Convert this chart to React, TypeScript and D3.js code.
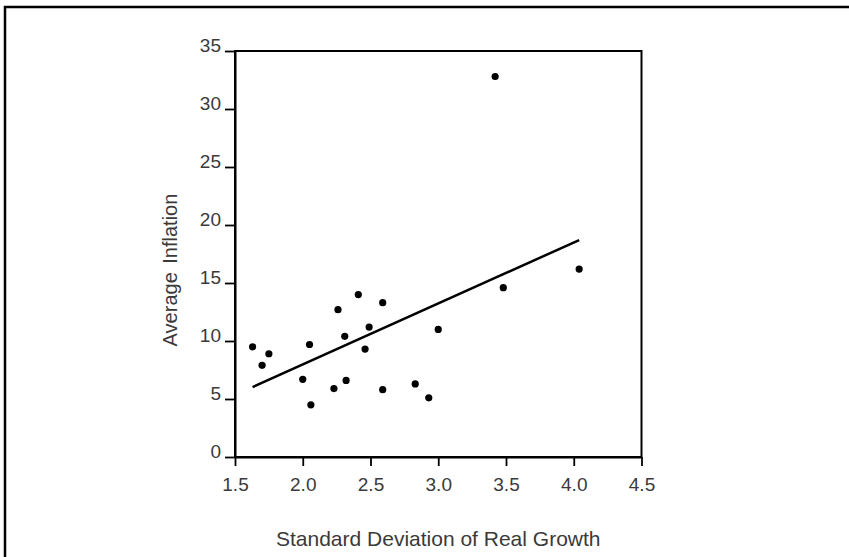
import React, { useEffect, useRef } from 'react';
import * as d3 from 'd3';

// scatter points
const growthSd = [1.63, 1.70, 1.75, 2.00, 2.05, 2.06, 2.23, 2.26, 2.31, 2.32, 2.41, 2.46, 2.49, 2.59, 2.59, 2.83, 2.93, 3.00, 3.42, 3.48, 4.04];
const inflation = [9.5, 7.9, 8.9, 6.7, 9.7, 4.5, 5.9, 12.7, 10.4, 6.6, 14.0, 9.3, 11.2, 13.3, 5.8, 6.3, 5.1, 11.0, 32.8, 14.6, 16.2];

// fitted line end points
const fitX = [1.63, 4.04];
const fitY = [6.03, 18.7];

const xTicks = [1.5, 2.0, 2.5, 3.0, 3.5, 4.0, 4.5];
const yTicks = [0, 5, 10, 15, 20, 25, 30, 35];

const W = 849;
const H = 557;
const font = "'Liberation Sans', Arial, sans-serif";

const drawChart = (el: SVGSVGElement) => {
  const svg = d3.select(el);
  svg.selectAll('*').remove();

  const x = d3.scaleLinear().domain([1.5, 4.5]).range([235, 641.5]);
  const y = d3.scaleLinear().domain([0, 35]).range([457, 51]);

  // outer frame (only left and top edges fall inside the window)
  svg.append('rect')
    .attr('x', 5).attr('y', 7)
    .attr('width', 900).attr('height', 600)
    .attr('fill', 'none').attr('stroke', '#000').attr('stroke-width', 2.5);

  // plot box
  svg.append('rect')
    .attr('x', x(1.5)).attr('y', y(35))
    .attr('width', x(4.5) - x(1.5)).attr('height', y(0) - y(35))
    .attr('fill', 'none').attr('stroke', '#000').attr('stroke-width', 2);

  const yAxis = d3.axisLeft(y).tickValues(yTicks).tickSize(10).tickSizeOuter(0).tickPadding(4);
  const gy = svg.append('g').attr('transform', `translate(${x(1.5)},0)`).call(yAxis);
  gy.select('.domain').attr('stroke-width', 2);
  gy.selectAll('.tick line').attr('stroke-width', 1.8);
  gy.selectAll('.tick text')
    .attr('dy', '0.05em')
    .style('font-family', font).style('font-size', '19px').attr('fill', '#3a3a3a');

  const xAxis = d3.axisBottom(x).tickValues(xTicks).tickFormat(d3.format('.1f'))
    .tickSize(9).tickSizeOuter(0).tickPadding(12);
  const gx = svg.append('g').attr('transform', `translate(0,${y(0)})`).call(xAxis);
  gx.select('.domain').attr('stroke-width', 2);
  gx.selectAll('.tick line').attr('stroke-width', 1.8);
  gx.selectAll('.tick text')
    .style('font-family', font).style('font-size', '19px').attr('fill', '#3a3a3a');

  // points
  svg.selectAll('.dot')
    .data(growthSd)
    .enter()
    .append('circle')
    .attr('cx', d => x(d))
    .attr('cy', (d, i) => y(inflation[i]))
    .attr('r', 3.6)
    .attr('fill', '#000');

  // regression line
  const line = d3.line<number>().x(d => x(d)).y((d, i) => y(fitY[i]));
  svg.append('path')
    .attr('d', line(fitX))
    .attr('fill', 'none').attr('stroke', '#000').attr('stroke-width', 2.5);

  svg.append('text')
    .text('Standard Deviation of Real Growth')
    .attr('x', (x(1.5) + x(4.5)) / 2)
    .attr('y', 546)
    .attr('text-anchor', 'middle')
    .style('font-family', font).style('font-size', '21px').attr('fill', '#3a3a3a');

  svg.append('text')
    .text('Average Inflation')
    .attr('transform', 'translate(177,270) rotate(-90)')
    .attr('text-anchor', 'middle')
    .style('font-family', font).style('font-size', '20px').style('word-spacing', '3px').attr('fill', '#3a3a3a');
};

const App = () => {
  const ref = useRef<SVGSVGElement>(null);
  useEffect(() => {
    if (ref.current) drawChart(ref.current);
  }, []);
  return (
    <svg ref={ref} width={W} height={H}
      style={{ position: 'absolute', left: 0, top: 0, background: '#fff', display: 'block' }} />
  );
};

export default App;
